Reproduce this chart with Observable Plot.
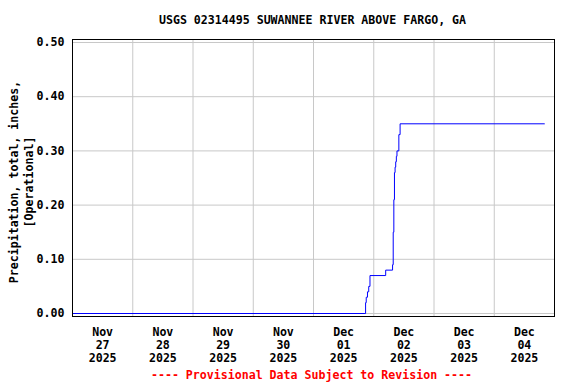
<!DOCTYPE html>
<html>
<head>
<meta charset="utf-8">
<script src="https://cdn.jsdelivr.net/npm/d3@7"></script>
<script src="https://cdn.jsdelivr.net/npm/@observablehq/plot@0.6"></script>
<style>
  html, body { margin: 0; padding: 0; background: #fff; }
</style>
</head>
<body>
<div id="chart"></div>
<script>
// ---- data ----
const title = "USGS 02314495 SUWANNEE RIVER ABOVE FARGO, GA";
const yLabel = "Precipitation, total, inches,\n[Operational]";
const caption = "---- Provisional Data Subject to Revision ----";

const times = [
  "2025-11-27T00:00", "2025-12-01T20:30", "2025-12-01T20:45", "2025-12-01T21:00",
  "2025-12-01T21:30", "2025-12-01T22:00", "2025-12-01T22:30", "2025-12-02T04:45",
  "2025-12-02T07:30", "2025-12-02T07:45", "2025-12-02T08:00", "2025-12-02T08:15",
  "2025-12-02T08:30", "2025-12-02T08:45", "2025-12-02T09:00", "2025-12-02T09:15",
  "2025-12-02T10:00", "2025-12-02T10:30", "2025-12-04T20:00"
];
const values = [
  0.00, 0.00, 0.02, 0.03,
  0.04, 0.05, 0.07, 0.08,
  0.09, 0.15, 0.21, 0.26,
  0.27, 0.28, 0.29, 0.30,
  0.33, 0.35, 0.35
];

const xDomain = ["2025-11-27T00:00", "2025-12-05T00:00"];
const gridDates = ["2025-11-28T00:00", "2025-11-29T00:00", "2025-11-30T00:00", "2025-12-01T00:00",
                   "2025-12-02T00:00", "2025-12-03T00:00", "2025-12-04T00:00"];
const tickDates = ["2025-11-27T12:00", "2025-11-28T12:00", "2025-11-29T12:00", "2025-11-30T12:00",
                   "2025-12-01T12:00", "2025-12-02T12:00", "2025-12-03T12:00", "2025-12-04T12:00"];
const tickLabels = ["Nov\n27\n2025", "Nov\n28\n2025", "Nov\n29\n2025", "Nov\n30\n2025",
                    "Dec\n01\n2025", "Dec\n02\n2025", "Dec\n03\n2025", "Dec\n04\n2025"];
const yTicks = [0.00, 0.10, 0.20, 0.30, 0.40, 0.50];
const yTickLabels = ["0.00", "0.10", "0.20", "0.30", "0.40", "0.50"];

// ---- build ----
const parse = s => new Date(s);
const data = times.map((t, i) => ({time: parse(t), value: values[i]}));
const tickDateObjs = tickDates.map(parse);
const labelByTime = new Map(tickDateObjs.map((d, i) => [+d, tickLabels[i]]));
const yLabelByVal = new Map(yTicks.map((v, i) => [v, yTickLabels[i]]));

const font = "'DejaVu Sans Mono', 'Liberation Mono', monospace";

const chart = Plot.plot({
  width: 576,
  height: 384,
  marginLeft: 72,
  marginRight: 22,
  marginTop: 39,
  marginBottom: 68,
  style: {fontFamily: font, fontWeight: "bold", fontSize: "11.6px", background: "#fff", color: "#000"},
  x: {type: "time", domain: xDomain.map(parse)},
  y: {domain: [0, 0.5], insetTop: 3, insetBottom: 3},
  marks: [
    Plot.ruleY(yTicks, {stroke: "#c8c8c8", strokeWidth: 1}),
    Plot.ruleX(gridDates.map(parse), {stroke: "#c8c8c8", strokeWidth: 1}),
    Plot.axisY(yTicks, {tickSize: 0, tickPadding: 8, tickFormat: v => yLabelByVal.get(v), label: null, fill: "#000"}),
    Plot.axisX(tickDateObjs, {tickSize: 0, tickPadding: 10, tickFormat: d => labelByTime.get(+d), label: null, lineHeight: 1.13, fill: "#000"}),
    Plot.line(data, {x: "time", y: "value", curve: "step-after", stroke: "#0000ff", strokeWidth: 1}),
    Plot.frame({stroke: "#000", strokeWidth: 1}),
    Plot.text([title], {frameAnchor: "top", lineAnchor: "middle", textAnchor: "middle", dy: -19, dx: -1, fill: "#000"}),
    Plot.text([yLabel], {frameAnchor: "left", rotate: -90, textAnchor: "middle", lineAnchor: "middle", dx: -52, dy: 4, lineHeight: 1.3, fill: "#000"}),
    Plot.text([caption], {frameAnchor: "bottom", lineAnchor: "middle", textAnchor: "middle", dy: 59, dx: -2, fill: "#ff0000"})
  ]
});
document.getElementById("chart").appendChild(chart);
</script>
</body>
</html>
